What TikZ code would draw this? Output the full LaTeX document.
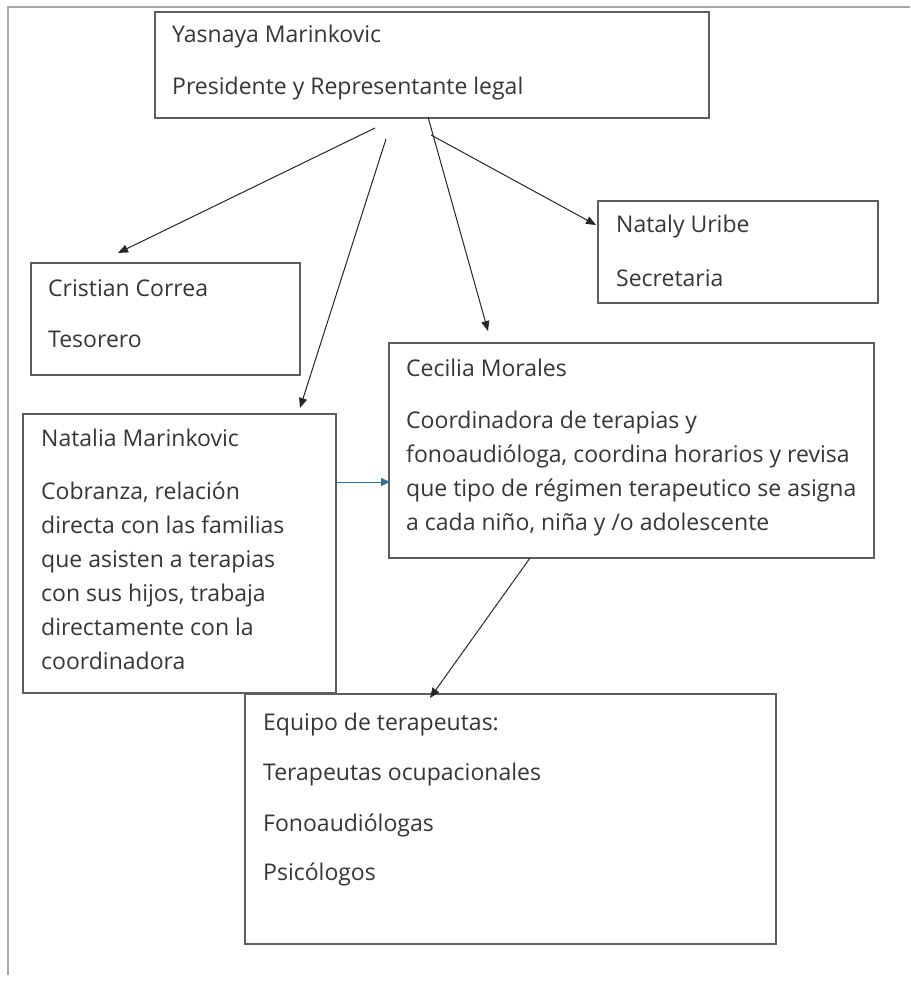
\documentclass[tikz,border=0pt]{standalone}
\usepackage{fontspec}
\setmainfont[Ligatures=NoCommon]{Open Sans}
\usetikzlibrary{arrows.meta}
\definecolor{boxline}{HTML}{5E5E5E}
\definecolor{txt}{HTML}{363636}
\definecolor{pageline}{HTML}{A8A8A8}
\definecolor{bluearrow}{HTML}{2F6F9A}
\tikzset{
  box/.style={draw=boxline, line width=1.6pt},
  lbl/.style={anchor=base west, inner sep=0pt, text=txt, font=\fontsize{23}{27}\selectfont},
  conn/.style={draw=black!85, line width=1pt, -{Triangle[length=10pt,width=8pt]}},
  bconn/.style={draw=bluearrow, line width=0.8pt, -{Triangle[length=9pt,width=8pt]}}
}
\begin{document}
\begin{tikzpicture}[x=1pt,y=-1pt]
\useasboundingbox (0,0) rectangle (910,981);
\fill[white] (0,0) rectangle (910,981);
% page edges
\draw[pageline, line width=2pt] (8,975) -- (8,7) -- (910,7);

% boxes
\draw[box] (155,12) rectangle (709,118);
\draw[box] (598,201) rectangle (878,303);
\draw[box] (31,263) rectangle (300,375);
\draw[box] (389,343) rectangle (874,558);
\draw[box] (23,414) rectangle (336,693);
\draw[box] (245,694) rectangle (776,944);

% texts
\node[lbl] (y1) at (172,43) {Yasnaya Marinkovic};
\node[lbl] (y2) at (172,95) {Presidente y Representante legal};
\node[lbl] (n1) at (616,233) {Nataly Uribe};
\node[lbl] (n2) at (616,287) {Secretaria};
\node[lbl] (c1) at (48,296) {Cristian Correa};
\node[lbl] (c2) at (48,347) {Tesorero};
\node[lbl] (m1) at (406,376) {Cecilia Morales};
\node[lbl] (m2) at (406,428) {Coordinadora de terapias y};
\node[lbl] (m3) at (406,462) {fonoaudióloga, coordina horarios y revisa};
\node[lbl] (m4) at (406,496) {que tipo de régimen terapeutico se asigna};
\node[lbl] (m5) at (406,530) {a cada niño, niña y /o adolescente};
\node[lbl] (t1) at (41,446) {Natalia Marinkovic};
\node[lbl] (t2) at (41,499) {Cobranza, relación};
\node[lbl] (t3) at (41,533) {directa con las familias};
\node[lbl] (t4) at (41,567) {que asisten a terapias};
\node[lbl] (t5) at (41,601) {con sus hijos, trabaja};
\node[lbl] (t6) at (41,635) {directamente con la};
\node[lbl] (t7) at (41,669) {coordinadora};
\node[lbl] (e1) at (263,730) {Equipo de terapeutas:};
\node[lbl] (e2) at (263,780) {Terapeutas ocupacionales};
\node[lbl] (e3) at (263,831) {Fonoaudiólogas};
\node[lbl] (e4) at (263,880) {Psicólogos};

% connector ends
\coordinate (a1s) at (375,128); \coordinate (a1e) at (118,253);
\coordinate (a2s) at (386,139); \coordinate (a2e) at (300,408);
\coordinate (a3s) at (428,117); \coordinate (a3e) at (488,331);
\coordinate (a4s) at (431,135); \coordinate (a4e) at (596,225);
\coordinate (a5s) at (336,482); \coordinate (a5e) at (390,482);
\coordinate (a6s) at (530,558); \coordinate (a6e) at (430,698);

\draw[conn] (a1s) -- (a1e);
\draw[conn] (a2s) -- (a2e);
\draw[conn] (a3s) -- (a3e);
\draw[conn] (a4s) -- (a4e);
\draw[bconn] (a5s) -- (a5e);
\draw[conn] (a6s) -- (a6e);
\end{tikzpicture}
\end{document}
